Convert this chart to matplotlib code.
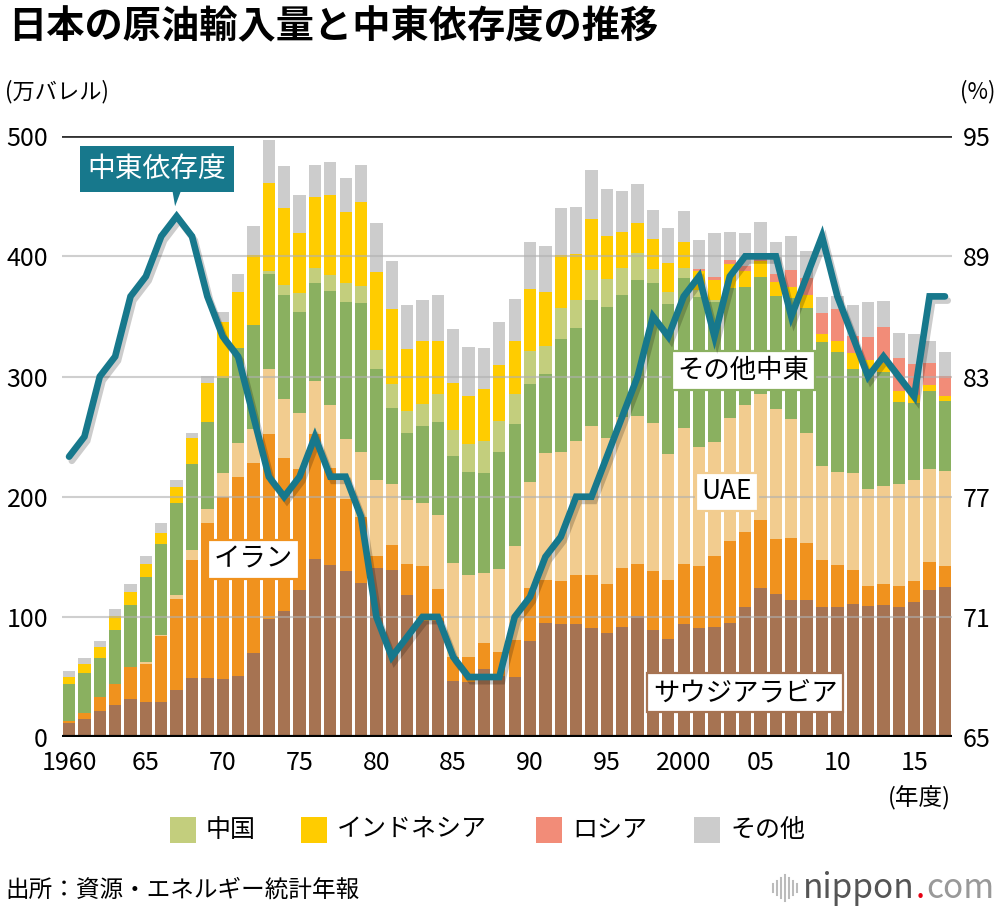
import numpy as np
import matplotlib
matplotlib.use("Agg")
import matplotlib.pyplot as plt
import matplotlib.patheffects as pe
from matplotlib.patches import Rectangle, Polygon
from matplotlib.lines import Line2D

plt.rcParams['font.family'] = ['Noto Sans CJK JP', 'DejaVu Sans']

# 年度 1960-2017, 輸入量(万バレル)
years = list(range(1960, 2018))

saudi = [11.5, 15, 22, 27, 32, 29, 29, 39, 49, 49,
         48.5, 51, 70, 98, 105, 122, 148, 143, 138, 128,
         141, 139, 118, 97, 97, 47, 46, 57, 51, 50,
         80, 95, 94, 94, 91, 87, 92, 101, 89, 82,
         94, 91, 92, 95, 108, 124, 119, 114, 114, 108,
         108, 111, 109, 110, 108, 112, 122, 125]
iran = [1.5, 5, 11.6, 17, 26.7, 32, 55, 75.8, 98, 129,
        151, 165.5, 158, 154, 127.6, 101, 104, 81, 60, 55,
        10, 21, 26.4, 45, 26, 20, 21, 21, 20, 31,
        44, 36, 36, 41, 43.5, 40, 48.4, 43, 48.8, 48.8,
        50.4, 51, 58.3, 68.4, 62.9, 56.7, 46.1, 51.4, 47.8, 39.5,
        35.6, 28, 16.8, 17.2, 18.1, 17.5, 23.7, 17.2]
uae = [0, 0, 0, 0, 0, 1.5, 1, 3.3, 8.7, 12,
       20.4, 28, 28.4, 54, 48.6, 46.6, 44.6, 52, 50.4, 54.3,
       63, 50.5, 53, 53, 61.7, 77.6, 68, 58.7, 68.5, 77.6,
       88, 105, 107, 111, 124.6, 122, 126.3, 123, 123.6, 104.5,
       112.6, 99.2, 95.6, 102.3, 105.2, 104.7, 107.8, 98.9, 91.6, 77.8,
       76.8, 80.8, 80.5, 81.7, 84.1, 84.7, 77.4, 79.1]
other_me = [31.5, 33.6, 32.4, 45.5, 51, 71, 75.5, 76.8, 71.4, 71.8,
            79.2, 79.6, 86.8, 79, 86.5, 84, 81.4, 95, 113.4, 123.7,
            92.3, 63.6, 56, 64, 77.4, 89, 85.7, 83.4, 97.3, 102,
            81.7, 66.3, 94, 94, 104.8, 108.8, 101.5, 113.7, 116, 125.3,
            124.7, 124.7, 115.8, 107.7, 98.1, 97, 94.4, 101.3, 103.5, 103.8,
            100.4, 86.5, 99.8, 94.6, 68.7, 63.6, 64.8, 58.3]
china = [0, 0, 0, 0, 0, 0, 0, 0, 0, 0,
         0, 0, 0, 3, 8.3, 15.5, 12.6, 13.8, 15.8, 14.7,
         15.8, 19.4, 18, 18.4, 23, 22, 23, 26.4, 26.3, 24.8,
         27.4, 22.7, 26.4, 23.7, 25, 23, 22, 22, 12.2, 10,
         9, 6, 2, 0, 0, 0, 0, 0, 0, 0,
         0, 0, 0, 0, 0, 0, 0, 0]
indonesia = [5.5, 7.6, 9, 11, 11, 10.5, 9.5, 13, 21.6, 33,
             46, 46, 58, 73, 64, 50, 58.4, 66, 59.3, 69.3,
             65, 62.6, 51.8, 51.8, 44.5, 39, 40.5, 42.8, 46.2, 44.5,
             51.7, 45.5, 44, 38.6, 42.2, 36.3, 29.7, 24.7, 25, 23.5,
             21, 15.8, 17, 20, 14, 14, 11, 8.5, 11, 6,
             9, 13, 8, 7.5, 8.9, 7, 4.7, 4.2]
russia = [0, 0, 0, 0, 0, 0, 0, 0, 0, 0,
          0, 0, 0, 0, 0, 0, 0, 0, 0, 0,
          0, 0, 0, 0, 0, 0, 0, 0, 0, 0,
          0, 0, 0, 0, 0, 0, 0, 0, 0, 0,
          0, 2, 2, 3.6, 3.5, 1, 6.6, 14.5, 14, 17.4,
          26.3, 14.7, 19, 30, 27.7, 25.5, 18.8, 16.3]
other = [5, 5, 5, 6, 6.5, 7, 8, 5.6, 4, 5.5,
         8.3, 15.3, 24, 35.7, 35, 32, 26.6, 27.4, 28, 30.6,
         41, 40, 36.2, 34.6, 38.5, 45.2, 40.2, 34.6, 36.2, 34.6,
         39, 38, 39, 39, 40.5, 39, 34.3, 33, 23.7, 29.8,
         25.7, 23.5, 36.6, 23.6, 27.5, 31.5, 26.7, 28, 22.7, 14,
         11, 25.8, 28.6, 22.2, 21.1, 24.8, 18.1, 20.3]

# 中東依存度(%)
dependency = [79, 80, 83, 84, 87, 88, 90, 91, 90, 87,
              85, 84, 81, 78, 77, 78, 80, 78, 78, 76,
              71, 69, 70, 71, 71, 69, 68, 68, 68, 71,
              72, 74, 75, 77, 77, 79, 81, 83, 86, 85,
              87, 88, 85, 88, 89, 89, 89, 86, 88, 90,
              87, 85, 83, 84, 83, 82, 87, 87]

series = [
    ("サウジアラビア", saudi, "#A67352"),
    ("イラン", iran, "#F0921E"),
    ("UAE", uae, "#F2CC8F"),
    ("その他中東", other_me, "#8AB060"),
    ("中国", china, "#C3CE7D"),
    ("インドネシア", indonesia, "#FFCC00"),
    ("ロシア", russia, "#F28C78"),
    ("その他", other, "#CCCCCC"),
]
colors = {name: c for name, _, c in series}
line_color = "#17788C"

fig = plt.figure(figsize=(10, 9.1), dpi=100)
ax = fig.add_axes([0.062, 0.190, 0.890, 0.6604])

x = np.arange(len(years))
bottom = np.zeros(len(years))
for name, vals, col in series:
    v = np.array(vals, dtype=float)
    ax.bar(x, v, bottom=bottom, width=0.8, color=col, linewidth=0, zorder=2)
    bottom += v

for yv in [100, 200, 300, 400]:
    ax.axhline(yv, color="#b0b0b0", lw=1.5, alpha=0.6, zorder=3)
ax.axhline(500, color="#333333", lw=2, zorder=3)
ax.axhline(0, color="black", lw=3, zorder=4)

ax.set_xlim(-0.46, len(years) - 0.54)
ax.set_ylim(0, 500)
ax.set_yticks([0, 100, 200, 300, 400, 500])
ax.tick_params(axis="y", length=0, pad=10, labelsize=18)
xt = [i for i, yr in enumerate(years) if yr % 5 == 0]
xl = [str(years[i]) if years[i] in (1960, 2000) else "%02d" % (years[i] % 100) for i in xt]
ax.set_xticks(xt)
ax.set_xticklabels(xl)
ax.tick_params(axis="x", length=0, pad=9, labelsize=18)
for s in ax.spines.values():
    s.set_visible(False)


# series labels
def label(xi, yv, txt, ec):
    ax.text(xi, yv, txt, ha="center", va="center", fontsize=19, zorder=6,
            bbox=dict(boxstyle="square,pad=0.22", fc="white", ec=ec, lw=1.6))


label(12.0, 148, "イラン", colors["イラン"])
label(42.8, 204, "UAE", colors["UAE"])
label(43.9, 305, "その他中東", colors["その他中東"])
label(44.0, 37, "サウジアラビア", colors["サウジアラビア"])

ax2 = ax.twinx()
ax2.set_ylim(65, 95)
ax2.set_yticks([65, 71, 77, 83, 89, 95])
ax2.tick_params(axis="y", length=0, pad=8, labelsize=18)
for s in ax2.spines.values():
    s.set_visible(False)
ax2.plot(x, dependency, color=line_color, lw=4.8, solid_joinstyle="miter",
         solid_capstyle="round", zorder=5,
         path_effects=[pe.SimpleLineShadow(offset=(2, -3), shadow_color="black", alpha=0.2),
                       pe.Normal()])

peak = int(np.argmax(dependency))
ax2.text(peak - 1.3, 93.35, "中東依存度", ha="center", va="center", fontsize=20,
         color="white", zorder=7,
         bbox=dict(boxstyle="square,pad=0.28", fc=line_color, ec="none"))
ax2.add_patch(Polygon([(peak - 0.3, 92.4), (peak + 0.35, 92.4), (peak - 0.1, 91.5)],
                      closed=True, fc=line_color, ec="none", zorder=7))

# texts around the chart
fig.text(0.008, 0.970, "日本の原油輸入量と中東依存度の推移", fontsize=27.5,
         fontweight="bold", ha="left", va="center")
fig.text(0.005, 0.899, "(万バレル)", fontsize=16, ha="left", va="center")
fig.text(0.995, 0.899, "(%)", fontsize=16, ha="right", va="center")
fig.text(0.919, 0.123, "(年度)", fontsize=17, ha="center", va="center")

# legend
leg_items = [("中国", 170), ("インドネシア", 301), ("ロシア", 536), ("その他", 694)]
ly = 830
for name, px in leg_items:
    fig.patches.append(Rectangle((px / 1000, 1 - (ly + 13) / 910), 26 / 1000, 26 / 910,
                                 transform=fig.transFigure, fc=colors[name], ec="none"))
    fig.text((px + 36) / 1000, 1 - ly / 910, name, fontsize=18, ha="left", va="center")

fig.text(0.005, 1 - 890 / 910, "出所：資源・エネルギー統計年報", fontsize=17, ha="left", va="center")

# nippon.com logo
for i, h in enumerate([8, 14, 20, 26, 20, 14, 8]):
    cx = (773 + i * 4) / 1000
    fig.lines.append(Line2D([cx, cx], [1 - (888 + h / 2) / 910, 1 - (888 - h / 2) / 910],
                            transform=fig.transFigure, color="#bbbbbb", lw=1.5))
renderer = fig.canvas.get_renderer()
lx = 0.803
for part, col in [("nippon", "#555555"), (".", "#e60012"), ("com", "#999999")]:
    t = fig.text(lx, 1 - 888 / 910, part, fontsize=24, color=col, ha="left", va="center")
    bb = t.get_window_extent(renderer)
    lx = (bb.x1 + 1) / (fig.get_figwidth() * fig.dpi)

fig.savefig("out.png", dpi=100)
